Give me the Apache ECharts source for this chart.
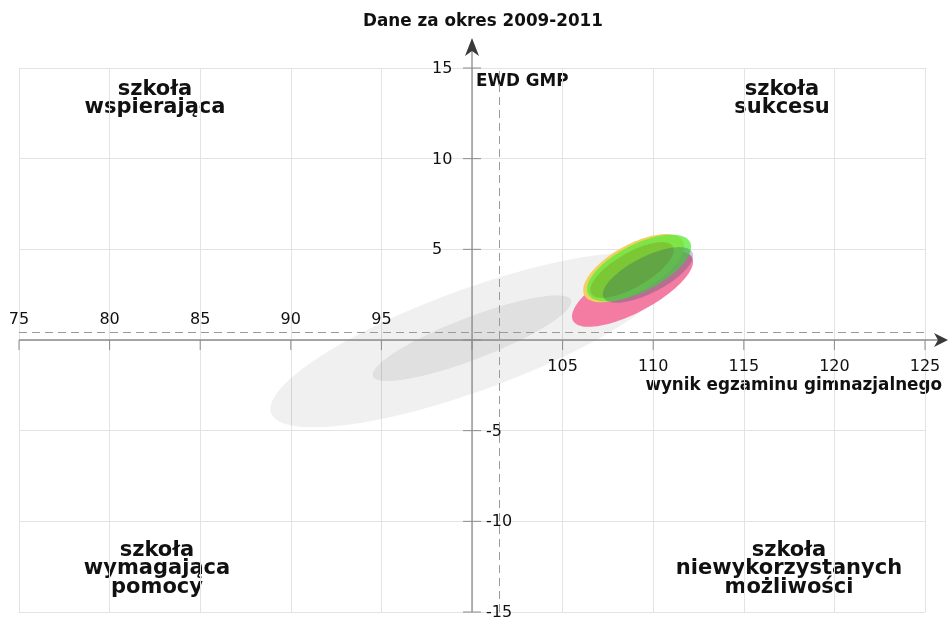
<!DOCTYPE html>
<html>
<head>
<meta charset="utf-8">
<script src="https://cdn.jsdelivr.net/npm/echarts@6/dist/echarts.min.js"></script>
<style>
  html, body { margin: 0; padding: 0; background: #fff; }
  #chart { width: 949px; height: 617px; }
</style>
</head>
<body>
<div id="chart"></div>
<script>
const xTicks = [75, 80, 85, 90, 95, 100, 105, 110, 115, 120, 125]
const xTickLabels = ['75', '80', '85', '90', '95', '', '105', '110', '115', '120', '125']
const yTicks = [-15, -10, -5, 0, 5, 10, 15]
const yTickLabels = ['-15', '-10', '-5', '', '5', '10', '15']

// reference lines (EWD / GMP means)
const refX = 101.5
const refY = 0.45

// ellipses: centre, semi-axes (in axis units) and tilt in degrees
const ellipseNames = ['all', 'core', 'pink', 'yellow', 'green', 'olive', 'teal']
const ellipseCx = [100.0, 100.0, 108.86, 108.92, 109.22, 108.83, 109.71]
const ellipseCy = [0.0, 0.1, 2.81, 3.96, 3.97, 3.86, 3.59]
const ellipseA = [11.8, 5.86, 3.72, 3.1, 3.15, 2.6, 2.75]
const ellipseB = [2.8, 1.16, 1.29, 1.3, 1.3, 0.95, 1.0]
const ellipseAngle = [20, 21, 28, 29, 27, 30, 27]

const ellipseColors = [
  'rgba(0,0,0,0.06)',
  'rgba(0,0,0,0.07)',
  'rgba(244,118,158,0.96)',
  '#f0d060',
  'rgba(95,235,60,0.78)',
  'rgba(120,130,20,0.3)',
  'rgba(30,80,110,0.28)',
]

const FONT = "'DejaVu Sans', sans-serif"

function renderEllipse(params, api) {
  const cx = api.value(0)
  const cy = api.value(1)
  const a = api.value(2)
  const b = api.value(3)
  const ang = (api.value(4) * Math.PI) / 180
  const pts = []
  for (let i = 0; i < 90; i++) {
    const t = (i / 90) * Math.PI * 2
    const dx = a * Math.cos(t)
    const dy = b * Math.sin(t)
    pts.push(api.coord([
      cx + dx * Math.cos(ang) - dy * Math.sin(ang),
      cy + dx * Math.sin(ang) + dy * Math.cos(ang),
    ]))
  }
  return {
    type: 'polygon',
    shape: { points: pts },
    style: { fill: ellipseColors[params.dataIndex] },
  }
}

function txt(text, x, y, align, vAlign, font, fill) {
  return {
    type: 'text',
    style: {
      text, x, y, font, fill: fill || '#111',
      textAlign: align, textVerticalAlign: vAlign,
      align, verticalAlign: vAlign,
    },
  }
}

function renderAxes(params, api) {
  const o = api.coord([100, 0])
  const left = api.coord([75, 0])[0]
  const bottom = api.coord([100, -15])[1]
  const children = []
  const axisStyle = { stroke: '#8c8c8c', lineWidth: 1.3 }
  // x axis
  children.push({ type: 'line', shape: { x1: left, y1: o[1], x2: 940, y2: o[1] }, style: axisStyle })
  children.push({
    type: 'polygon',
    shape: { points: [[948, o[1]], [934, o[1] - 7], [938, o[1]], [934, o[1] + 7]] },
    style: { fill: '#3a3a3a' },
  })
  // y axis
  children.push({ type: 'line', shape: { x1: o[0], y1: bottom, x2: o[0], y2: 46 }, style: axisStyle })
  children.push({
    type: 'polygon',
    shape: { points: [[o[0], 38], [o[0] - 7, 56], [o[0], 51], [o[0] + 7, 56]] },
    style: { fill: '#3a3a3a' },
  })
  xTicks.forEach((v, i) => {
    const p = api.coord([v, 0])
    children.push({ type: 'line', shape: { x1: p[0], y1: p[1], x2: p[0], y2: p[1] + 10 }, style: { stroke: '#8c8c8c', lineWidth: 1 } })
    if (!xTickLabels[i]) return
    const below = v > 100
    children.push(txt(xTickLabels[i], p[0], below ? p[1] + 27 : p[1] - 20, 'center', 'middle', '16px ' + FONT, '#111'))
  })
  yTicks.forEach((v, i) => {
    const p = api.coord([100, v])
    children.push({ type: 'line', shape: { x1: p[0] - 9, y1: p[1], x2: p[0] + 9, y2: p[1] }, style: { stroke: '#8c8c8c', lineWidth: 1 } })
    if (!yTickLabels[i]) return
    const neg = v < 0
    children.push(txt(yTickLabels[i], neg ? p[0] + 14 : p[0] - 40, p[1] + 1, 'left', 'middle', '16px ' + FONT, '#111'))
  })
  return { type: 'group', children }
}

const chart = echarts.init(document.getElementById('chart'))

const quadrantFont = 'bold 21px ' + FONT
const boldFont = 'bold 16.8px ' + FONT

function label(text, x, y, align, font, lineHeight) {
  return {
    type: 'text', x, y,
    style: {
      text, font, lineHeight, fill: '#111',
      textAlign: align, textVerticalAlign: 'middle', align, verticalAlign: 'middle',
    },
  }
}

chart.setOption({
  animation: false,
  grid: { left: 19, right: 24, top: 68, bottom: 5 },
  xAxis: {
    type: 'value', min: 75, max: 125, interval: 5,
    axisLine: { show: false }, axisTick: { show: false }, axisLabel: { show: false },
    splitLine: { lineStyle: { color: '#e3e3e3', width: 1 } },
  },
  yAxis: {
    type: 'value', min: -15, max: 15, interval: 5,
    axisLine: { show: false }, axisTick: { show: false }, axisLabel: { show: false },
    splitLine: { lineStyle: { color: '#e3e3e3', width: 1 } },
  },
  graphic: [
    label('Dane za okres 2009-2011', 483, 22, 'center', boldFont),
    label('EWD GMP', 476, 82, 'left', boldFont),
    label('wynik egzaminu gimnazjalnego', 942, 386, 'right', boldFont),
    label('szkoła\nwspierająca', 155, 99, 'center', quadrantFont, 18),
    label('szkoła\nsukcesu', 782, 99, 'center', quadrantFont, 18),
    label('szkoła\nwymagająca\npomocy', 157, 569, 'center', quadrantFont, 18.5),
    label('szkoła\nniewykorzystanych\nmożliwości', 789, 569, 'center', quadrantFont, 18.5),
  ],
  series: [
    {
      name: 'ellipses',
      type: 'custom',
      renderItem: renderEllipse,
      data: ellipseNames.map((n, i) => [ellipseCx[i], ellipseCy[i], ellipseA[i], ellipseB[i], ellipseAngle[i]]),
      z: 2,
    },
    {
      name: 'axes',
      type: 'custom',
      renderItem: renderAxes,
      data: [[100, 0]],
      z: 3,
      silent: true,
      markLine: {
        silent: true,
        symbol: 'none',
        label: { show: false },
        lineStyle: { color: '#9a9a9a', type: [8, 5], width: 1 },
        data: [{ xAxis: refX }, { yAxis: refY }],
      },
    },
  ],
})
</script>
</body>
</html>
